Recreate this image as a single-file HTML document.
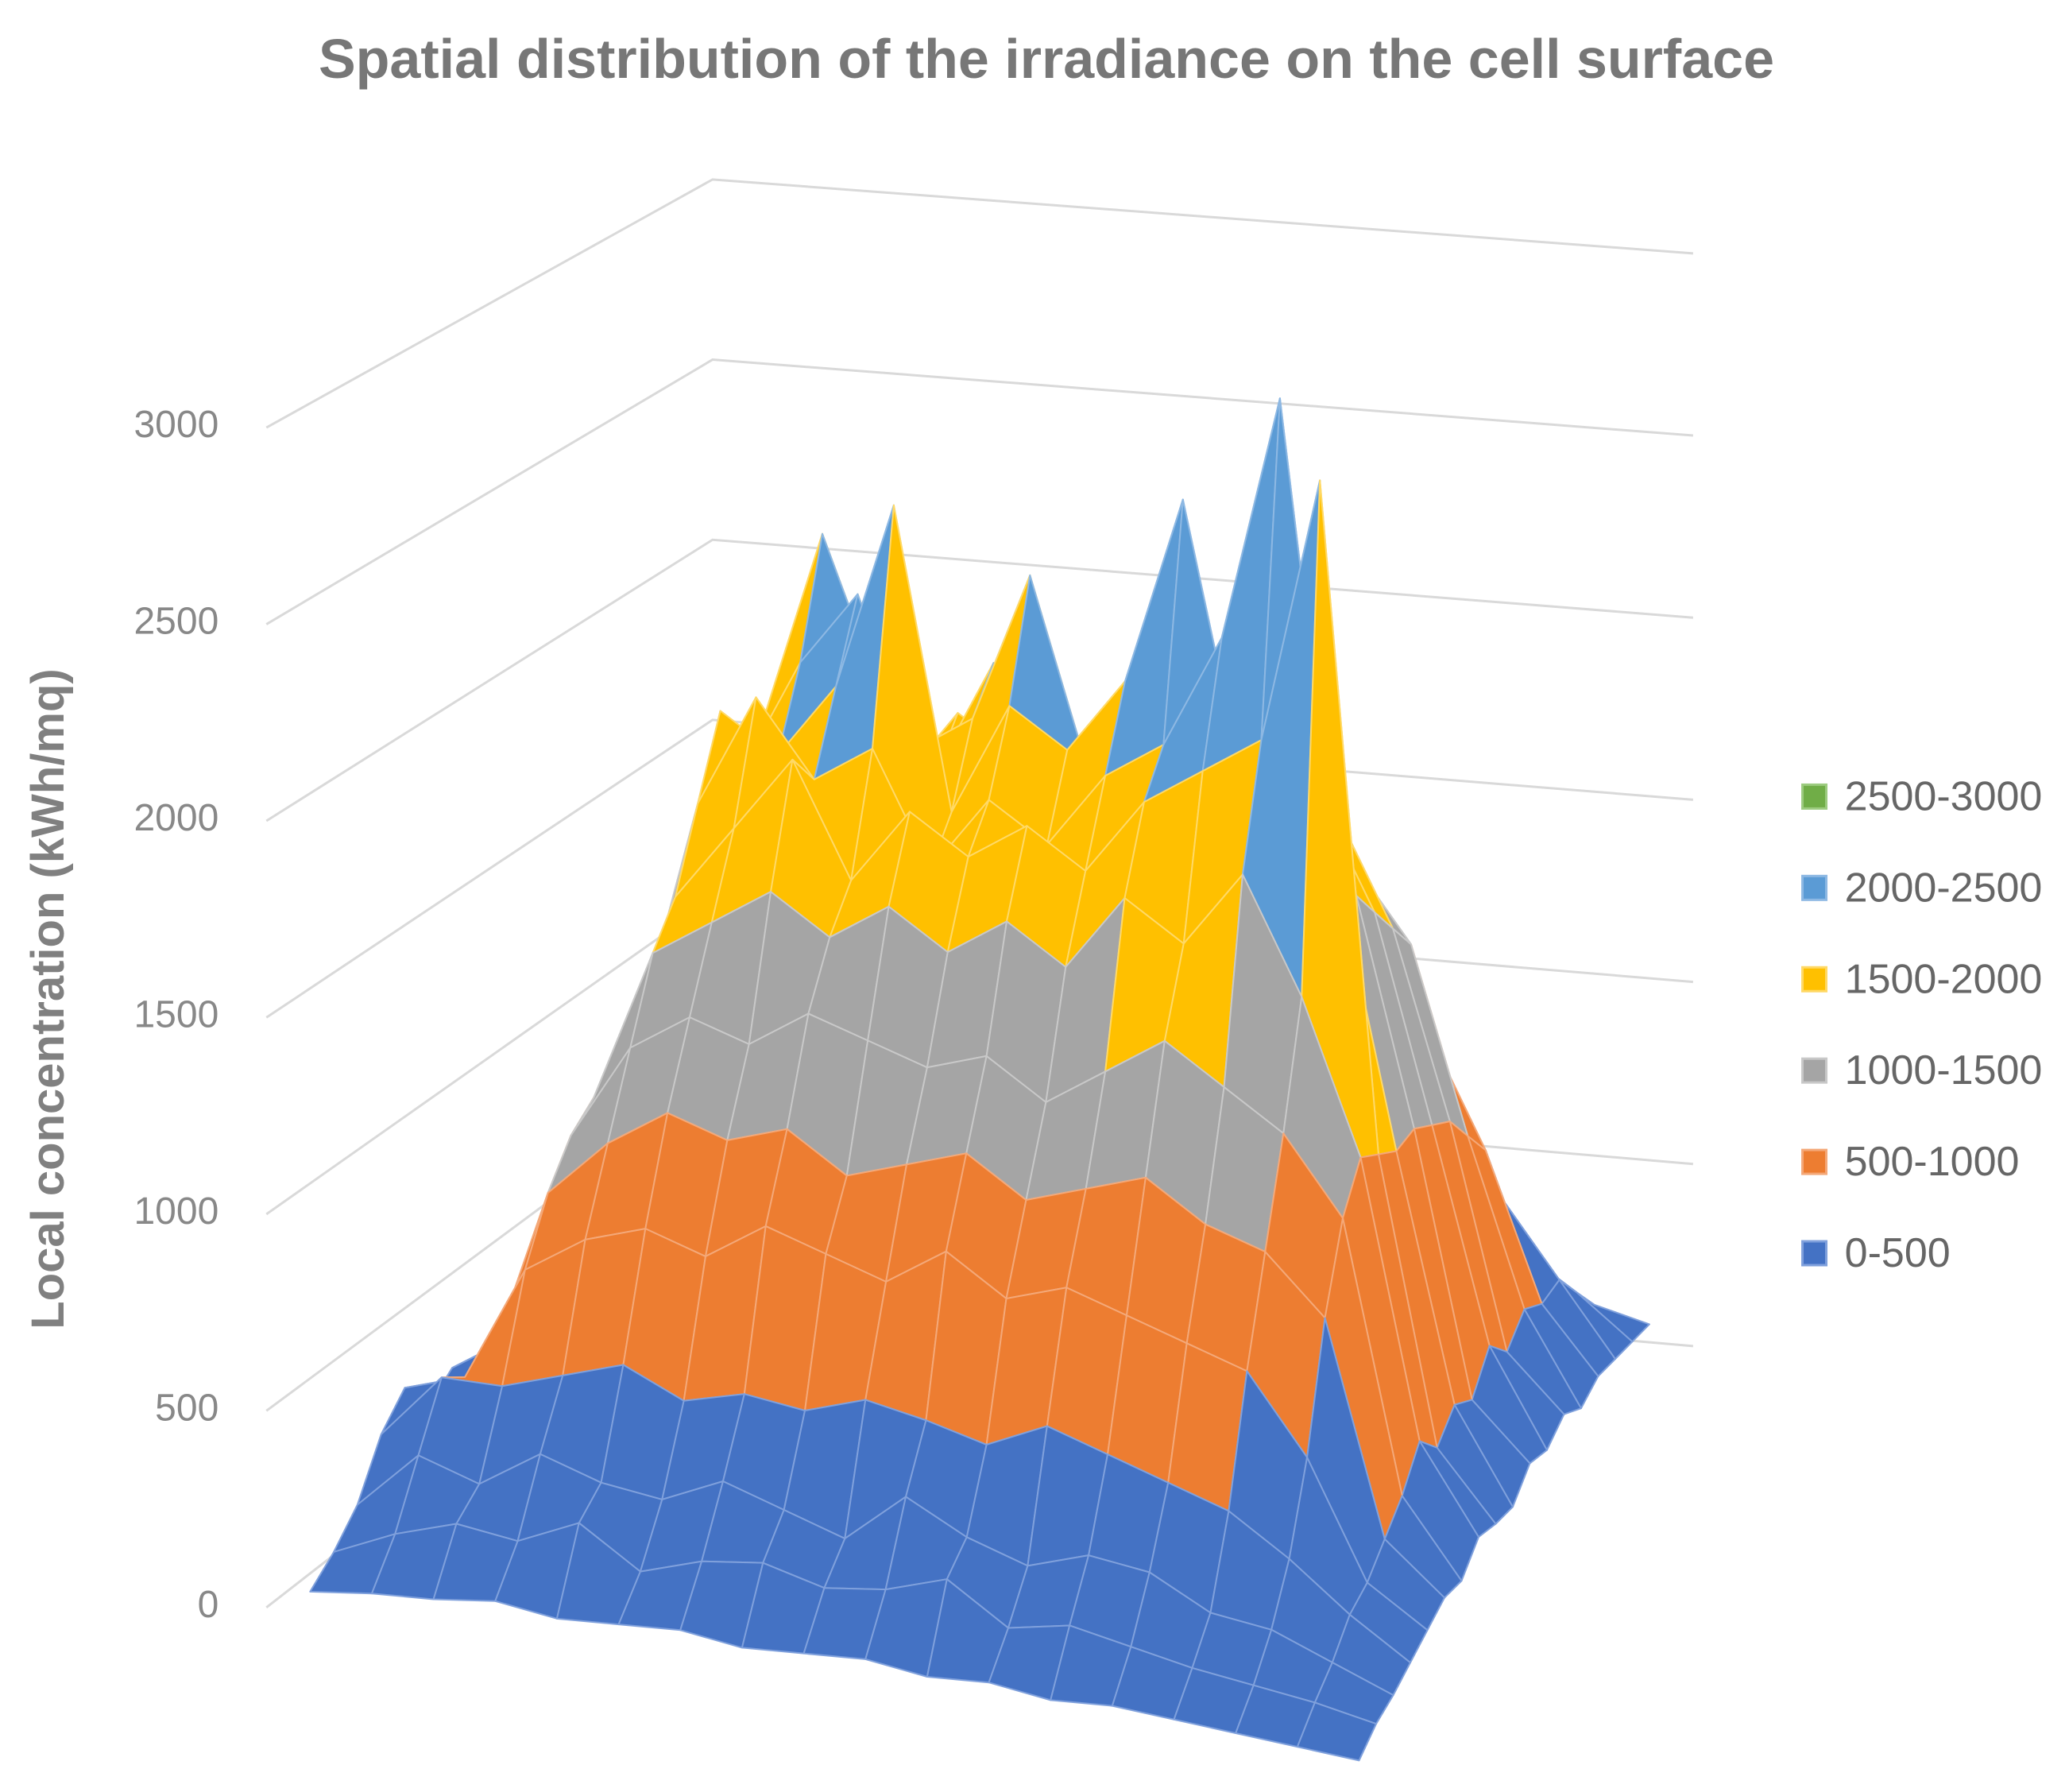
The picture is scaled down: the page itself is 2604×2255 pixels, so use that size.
<!DOCTYPE html>
<html><head><meta charset="utf-8"><style>
html,body{margin:0;padding:0;background:#fff;}
svg{display:block;font-family:"Liberation Sans",sans-serif;}
</style></head><body>
<svg id="chart" width="2604" height="2255" viewBox="0 0 2604 2255" xmlns="http://www.w3.org/2000/svg">
<text x="1317" y="98" text-anchor="middle" font-size="70" font-weight="bold" fill="#777">Spatial distribution of the irradiance on the cell surface</text>
<text transform="translate(80,1257) rotate(-90)" text-anchor="middle" font-size="58" font-weight="bold" fill="#808080">Local concentration (kWh/mq)</text>
<g id="grid"></g>
<g id="ticks"></g>
<g id="surface"></g>
<g id="legend"></g>
</svg>
<script>
const zTicks=[0,500,1000,1500,2000,2500,3000];
const bandLabels=["0-500","500-1000","1000-1500","1500-2000","2000-2500","2500-3000"];
const bandColors=["#4472C4","#ED7D31","#A5A5A5","#FFC000","#5B9BD5","#70AD47"];
const bandStroke=["#7FA0DC","#F4A878","#C8C8C8","#FFD966","#8DB8E3","#9CCB7F"];
const heights=[
[60,100,150,120,180,140,200,160,150,200,170,140,180,150,130,120,100,60],
[100,250,350,300,400,350,300,380,420,350,300,400,350,300,380,300,200,80],
[150,380,600,700,800,750,900,850,800,900,850,800,750,700,650,500,300,100],
[120,450,800,1100,1200,1150,1300,1200,1250,1300,1200,1250,1200,1100,1000,700,300,120],
[200,420,900,1500,1700,1600,1800,1700,1650,1800,1700,1750,1600,1500,1300,800,350,100],
[150,450,1000,1800,2300,1900,1700,2000,1900,1700,2000,1800,1900,1700,1400,900,300,150],
[180,400,1100,1700,2000,2200,1800,1900,2300,1800,1900,2000,2100,1800,1500,950,380,120],
[220,450,1150,1900,1800,2000,2500,1700,2000,1900,2100,2600,1900,2200,1600,1000,300,150],
[160,420,1100,1700,2000,1800,1900,1600,1800,1700,1900,2000,2300,2950,1700,1000,350,100],
[250,400,1050,1500,1700,1900,1600,1800,1700,1800,1700,1900,2000,2100,2800,1050,300,120],
[200,380,1000,1400,1500,1600,1500,1600,1500,1600,1500,1700,1600,1800,1500,1100,380,150],
[300,400,950,1200,1300,1250,1350,1300,1250,1300,1200,1300,1400,1300,1200,1000,300,100],
[250,380,850,1000,1100,1050,1100,1000,1050,1100,1000,1050,1100,1000,950,800,250,120],
[350,400,700,800,850,800,900,850,800,900,800,850,800,750,700,500,200,100],
[280,450,450,500,550,480,520,500,550,520,480,550,500,450,400,300,180,80],
[150,300,250,350,300,280,350,300,250,380,300,250,300,280,200,180,120,60],
[80,150,200,180,250,150,200,220,180,200,250,150,180,150,120,100,80,50],
[30,50,60,80,60,70,80,60,70,80,60,70,50,60,50,40,30,20]];

const S=2604/1568, NS="http://www.w3.org/2000/svg";
const B=[540,955],L=[235,1215],R=[1250,1020],F=[1030,1340];
function proj(u,v,z){
  const x=B[0]*(1-u)*(1-v)+L[0]*u*(1-v)+R[0]*(1-u)*v+F[0]*u*v;
  const y=B[1]*(1-u)*(1-v)+L[1]*u*(1-v)+R[1]*(1-u)*v+F[1]*u*v;
  const k=0.273+0.025*u+0.003*v;
  return [x*S,(y-z*k)*S];
}
function el(tag,attrs,parent){const e=document.createElementNS(NS,tag);for(const a in attrs)e.setAttribute(a,attrs[a]);parent.appendChild(e);return e;}
const grid=document.getElementById('grid'),ticks=document.getElementById('ticks');
zTicks.forEach((t)=>{
  const a=proj(1,0,t),b=proj(0,0,t),c=proj(0,1,t);
  const p=el('polyline',{points:`${a[0]-55},${a[1]+5} ${b[0]},${b[1]} ${c[0]+55},${c[1]}`,fill:'none',stroke:'#D9D9D9','stroke-width':3},grid);
  
  
  const tx=el('text',{x:a[0]-115,y:a[1]+17,'text-anchor':'end','font-size':48,fill:'#888'},ticks);
  tx.textContent=t;
  
  
});
const surf=document.getElementById('surface');
const n=heights.length,m=heights[0].length;
const quads=[];
for(let i=0;i<n-1;i++)for(let j=0;j<m-1;j++)quads.push([i,j]);
quads.sort((a,b)=>(a[0]+a[1])-(b[0]+b[1]));
quads.forEach(([i,j])=>{
  const pts=[[i,j],[i+1,j],[i+1,j+1],[i,j+1]].map(([a,b])=>proj(a/(n-1),b/(m-1),heights[a][b]));
  const avg=(heights[i][j]+heights[i+1][j]+heights[i+1][j+1]+heights[i][j+1])/4;
  const band=Math.min(5,Math.floor(avg/500));
  const q=el('polygon',{points:pts.map(p=>p.join(',')).join(' '),fill:bandColors[band],stroke:bandStroke[band],'stroke-width':2,'stroke-linejoin':'round'},surf);
  
  
});
const leg=document.getElementById('legend');
for(let b=5;b>=0;b--){
  const y=(603+(5-b)*69.2)*S;
  const g=el('g',{},leg);
  
  
  el('rect',{x:1366*S,y:y-14,width:30,height:30,fill:bandColors[b],stroke:bandStroke[b],'stroke-width':3},g);
  const t=el('text',{x:1398*S,y:y+18,'font-size':52,fill:'#666'},g);
  t.textContent=bandLabels[b];
}
</script>
</body></html>
